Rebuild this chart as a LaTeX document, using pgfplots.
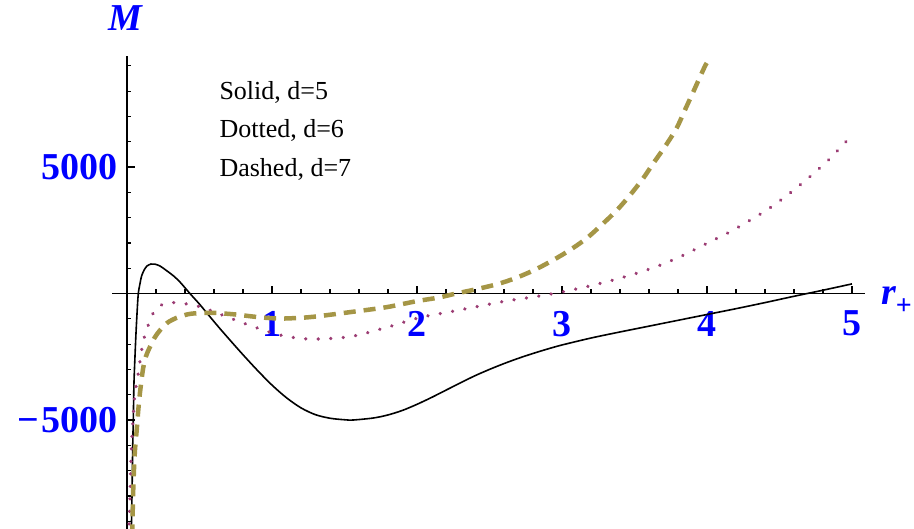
\documentclass[border=0pt]{standalone}
\usepackage{fontspec}
\setmainfont{Liberation Serif}
\usepackage{pgfplots}
\pgfplotsset{compat=1.18}
\definecolor{cDash}{RGB}{165,150,70}
\definecolor{cDot}{RGB}{155,60,115}

\begin{document}
\begin{tikzpicture}
\begin{axis}[
  at={(112.5pt,0.2pt)}, anchor=south west,
  scale only axis, width=752.5pt, height=473.1pt,
  xmin=-0.1, xmax=5.09, ymin=-9300, ymax=9400,
  axis lines=middle, axis line style={-, line width=1.4pt},
  tick align=inside,
  major tick length=8pt, minor tick length=4.5pt,
  tick style={black, line width=1.2pt},
  xtick={1,2,3,4,5}, xticklabels={1,2,3,4,5},
  minor xtick={0.2,0.4,0.6,0.8,1.2,1.4,1.6,1.8,2.2,2.4,2.6,2.8,3.2,3.4,3.6,3.8,4.2,4.4,4.6,4.8},
  ytick={-5000,5000}, yticklabels={−\kern2pt5000,5000},
  minor ytick={-9000,-8000,-7000,-6000,-4000,-3000,-2000,-1000,1000,2000,3000,4000,6000,7000,8000,9000},
  ticklabel style={font=\fontsize{38}{40}\selectfont\bfseries, text=blue},
  xticklabel style={yshift=-14pt},
  yticklabel style={xshift=-6pt},
  clip=true,
]
% Solid, d=5
\addplot[black, line width=1.6pt, smooth] coordinates {
  (0.028,-9600) (0.032,-8800) (0.036,-7400) (0.039,-6200) (0.044,-4800)
  (0.048,-3550) (0.055,-2500) (0.062,-1573) (0.070,-700) (0.078,0)
  (0.090,400) (0.101,700) (0.120,950) (0.136,1080) (0.165,1165) (0.193,1160)
  (0.230,1080) (0.274,900) (0.320,700) (0.366,450) (0.434,0) (0.500,-420)
  (0.572,-917) (0.640,-1380) (0.710,-1840) (0.800,-2420) (0.900,-3040)
  (1.000,-3620) (1.100,-4120) (1.200,-4520) (1.300,-4790) (1.400,-4930)
  (1.500,-4990) (1.560,-5000) (1.700,-4920) (1.800,-4800) (1.900,-4620)
  (2.000,-4380) (2.100,-4110) (2.200,-3820) (2.300,-3530) (2.400,-3250)
  (2.500,-3000) (2.600,-2770) (2.700,-2560) (2.800,-2370) (2.900,-2195)
  (3.000,-2035) (3.200,-1760) (3.400,-1520) (3.600,-1290) (3.800,-1060)
  (4.000,-830) (4.200,-600) (4.400,-360) (4.600,-110) (4.800,130) (5.000,380)};
% Dotted, d=6
\addplot[cDot, line width=3.6pt, line cap=round, dash pattern=on 0.01pt off 12.5pt, smooth] coordinates {
  (0.013,-9600) (0.016,-8820) (0.021,-8030) (0.025,-6980) (0.032,-5920)
  (0.043,-4870) (0.055,-3950) (0.078,-3150) (0.101,-2233) (0.124,-1640)
  (0.180,-783) (0.250,-415) (0.343,-364) (0.503,-522) (0.687,-917)
  (0.840,-1245) (1.055,-1640) (1.262,-1800) (1.538,-1706) (1.790,-1340)
  (2.020,-950) (2.250,-700) (2.430,-500) (2.620,-290) (2.800,-140)
  (2.980,40) (3.170,269) (3.354,534) (3.515,800) (3.680,1126) (3.840,1522)
  (4.000,1984) (4.160,2443) (4.300,2905) (4.430,3368) (4.570,3960)
  (4.710,4617) (4.850,5344) (4.990,6200)};
% Dashed, d=7
\addplot[cDash, line width=4.5pt, dash pattern=on 12pt off 8pt, smooth] coordinates {
  (0.035,-9600) (0.039,-8690) (0.043,-7770) (0.048,-6980) (0.055,-6190)
  (0.067,-5400) (0.078,-4600) (0.090,-3900) (0.110,-3000) (0.130,-2500)
  (0.159,-2100) (0.190,-1750) (0.228,-1450) (0.280,-1150) (0.343,-960)
  (0.420,-820) (0.480,-780) (0.560,-765) (0.620,-770) (0.750,-830)
  (0.900,-930) (1.050,-990) (1.200,-960) (1.285,-920) (1.400,-840)
  (1.560,-720) (1.790,-540) (2.000,-300) (2.150,-160) (2.270,0)
  (2.410,170) (2.560,380) (2.680,610) (2.810,929) (2.940,1324)
  (3.055,1719) (3.170,2182) (3.285,2775) (3.380,3300) (3.470,3893)
  (3.560,4553) (3.630,5146) (3.710,5802) (3.790,6530) (3.848,7253)
  (3.906,7976) (3.990,9030) (4.010,9150)};
\end{axis}
\node[anchor=base west, font=\fontsize{26}{30}\selectfont] at (216pt,429pt) {Solid, d=5};
\node[anchor=base west, font=\fontsize{26}{30}\selectfont] at (216pt,391pt) {Dotted, d=6};
\node[anchor=base west, font=\fontsize{26}{30}\selectfont] at (216pt,352pt) {Dashed, d=7};
\node[font=\fontsize{38}{40}\selectfont\bfseries\itshape, text=blue] at (125pt,511pt) {M};
\node[anchor=base west, font=\fontsize{38}{40}\selectfont\bfseries\itshape, text=blue, inner sep=0pt]
  at (881pt,224pt) {r\raisebox{-10pt}{\fontsize{28}{30}\selectfont\upshape +}};
\pgfresetboundingbox
\useasboundingbox (0,0) rectangle (914pt,529pt);
\end{tikzpicture}
\end{document}
